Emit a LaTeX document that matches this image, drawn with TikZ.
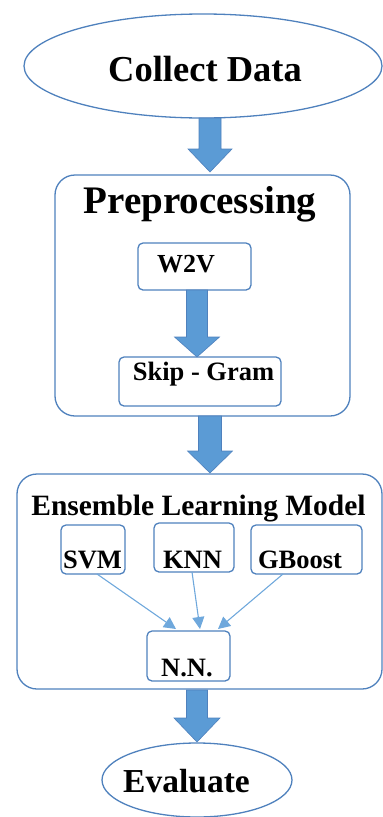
\documentclass[tikz,border=0pt]{standalone}
\usepackage{fontspec}
\setmainfont{Liberation Serif}
\usetikzlibrary{arrows.meta}
\definecolor{edgeblue}{HTML}{4F81BD}
\definecolor{fillblue}{HTML}{5B9BD5}
\definecolor{linkblue}{HTML}{6FA8DC}
\tikzset{
  oval/.style={ellipse, draw=edgeblue, line width=1.3pt, inner sep=0pt},
  bigbox/.style={draw=edgeblue, line width=1.3pt, rounded corners=20pt, rectangle, inner sep=0pt},
  smallbox/.style={draw=edgeblue, line width=1.3pt, rounded corners=5pt, rectangle, inner sep=0pt},
  lbl/.style={anchor=base, inner sep=0pt, font=\bfseries},
  blockarrow/.style={fill=fillblue, draw=edgeblue, line width=0.6pt},
  link/.style={draw=linkblue, line width=1.1pt, -{Triangle[length=12pt,width=12pt]}}
}
\newcommand{\blkarrow}[6]{% cx, top, headstart, tip, shafthalf, headhalf
  \path[blockarrow] ({#1-#5},#2) -- ({#1+#5},#2) -- ({#1+#5},#3) -- ({#1+#6},#3)
    -- (#1,#4) -- ({#1-#6},#3) -- ({#1-#5},#3) -- cycle;}
\begin{document}
\begin{tikzpicture}[x=1pt,y=-1pt]
\useasboundingbox (0,0) rectangle (383,817);
% Collect Data
\draw[edgeblue, line width=1.3pt] (203,66) ellipse [x radius=179, y radius=52];
\node[lbl, font=\bfseries\fontsize{36.5}{40}\selectfont] (collect) at (205,81) {Collect Data};
% Preprocessing box
\draw[edgeblue, line width=1.3pt, rounded corners=20pt] (55,175) rectangle (350,416);
\node[lbl, font=\bfseries\fontsize{39}{43}\selectfont] (prep) at (200,213) {Preprocessing};
% W2V
\draw[edgeblue, line width=1.3pt, rounded corners=5pt] (138,243) rectangle (251,290);
\node[lbl, font=\bfseries\fontsize{26}{30}\selectfont] (w2v) at (186,272) {W2V};
% Skip-Gram
\draw[edgeblue, line width=1.3pt, rounded corners=5pt] (119,357) rectangle (281,406);
\node[lbl, font=\bfseries\fontsize{26.5}{30}\selectfont] (skip) at (203.5,380) {Skip - Gram};
% Ensemble
\draw[edgeblue, line width=1.3pt, rounded corners=20pt] (17,474) rectangle (382,689);
\node[lbl, font=\bfseries\fontsize{29.5}{33}\selectfont] (ens) at (198.5,515) {Ensemble Learning Model};
% sub boxes
\node[smallbox, minimum width=64pt, minimum height=49pt] (svm) at (93,549.5) {};
\node[smallbox, minimum width=80pt, minimum height=49pt] (knn) at (194,547.5) {};
\node[smallbox, minimum width=111pt, minimum height=49pt] (gb) at (306.5,549.5) {};
\node[smallbox, minimum width=83pt, minimum height=50pt] (nn) at (188.5,656) {};
\node[lbl, font=\bfseries\fontsize{26.5}{30}\selectfont] at (92.5,568) {SVM};
\node[lbl, font=\bfseries\fontsize{26.5}{30}\selectfont] at (192.5,568) {KNN};
\node[lbl, font=\bfseries\fontsize{26.5}{30}\selectfont] at (300,568) {GBoost};
\node[lbl, font=\bfseries\fontsize{26.5}{30}\selectfont] at (187,676) {N.N.};
% links
\coordinate (svmo) at (97,574);
\coordinate (knno) at (192,572);
\coordinate (gbo) at (283,574);
\coordinate (nn1) at (176,629);
\coordinate (nn2) at (200,629);
\coordinate (nn3) at (218,629);
\draw[link] (svmo) -- (nn1);
\draw[link] (knno) -- (nn2);
\draw[link] (gbo) -- (nn3);
% Evaluate
\draw[edgeblue, line width=1.3pt] (197,780) ellipse [x radius=95, y radius=37];
\node[lbl, font=\bfseries\fontsize{33.5}{37}\selectfont] (eval) at (186.5,792) {Evaluate};
% block arrows
\blkarrow{210}{118}{149}{172}{11}{22}
\blkarrow{197}{290}{337}{357}{10.5}{22.5}
\blkarrow{210}{416}{451}{473}{11.5}{22.5}
\blkarrow{197}{690}{718}{742}{10.5}{23}
\end{tikzpicture}
\end{document}
